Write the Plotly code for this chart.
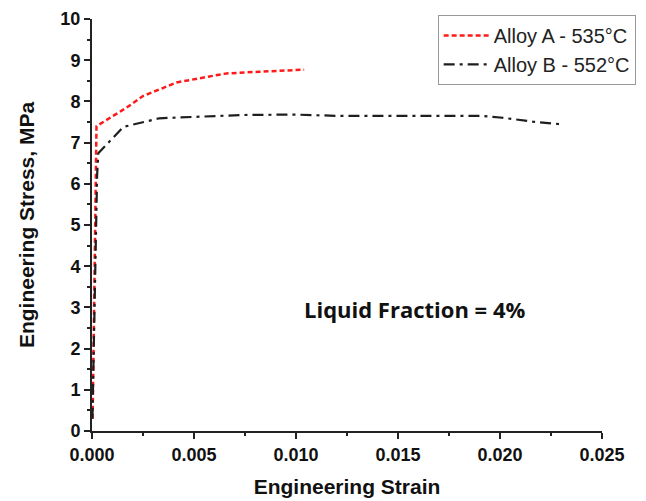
import plotly.graph_objects as go

# Tensile curves (engineering strain, engineering stress in MPa)
strain_a = [0.00003, 0.00010, 0.00018, 0.00022, 0.0017, 0.0025, 0.00415, 0.0058, 0.0066, 0.0082, 0.0104]
stress_a = [0.3, 3.0, 6.0, 7.40, 7.85, 8.13, 8.46, 8.60, 8.68, 8.72, 8.77]

strain_b = [0.00002, 0.00015, 0.00025, 0.00031, 0.00153, 0.0033, 0.0050, 0.0074, 0.0099, 0.0120,
            0.0150, 0.0190, 0.0200, 0.0216, 0.0229]
stress_b = [0.3, 4.0, 6.2, 6.74, 7.38, 7.59, 7.63, 7.67, 7.68, 7.65,
            7.65, 7.65, 7.61, 7.51, 7.45]

name_a = "Alloy A - 535°C"
name_b = "Alloy B - 552°C"
note_text = "Liquid Fraction = 4%"

x_ticks = [0.000, 0.005, 0.010, 0.015, 0.020, 0.025]
x_tick_text = ["0.000", "0.005", "0.010", "0.015", "0.020", "0.025"]
y_ticks = list(range(0, 11))

fig = go.Figure()
fig.add_trace(go.Scatter(
    x=strain_a, y=stress_a, mode="lines", name=name_a,
    line=dict(color="#ff1a1a", width=2.5, dash="5px,3px"),
))
fig.add_trace(go.Scatter(
    x=strain_b, y=stress_b, mode="lines", name=name_b,
    line=dict(color="#1e1e1e", width=2.2, dash="11px,5px,3px,5px"),
))

tick_font = dict(family="Liberation Sans, Arial", size=18, color="#111111", weight="bold")
title_font = dict(family="Liberation Sans, Arial", size=21, color="#111111", weight="bold")

fig.update_xaxes(
    range=[0, 0.025], tickvals=x_ticks, ticktext=x_tick_text, automargin=False,
    showline=True, linecolor="#222222", linewidth=2, mirror=False,
    ticks="outside", ticklen=6, tickwidth=2, tickcolor="#222222",
    minor=dict(ticks="outside", ticklen=3, tickwidth=2, tickcolor="#222222", dtick=0.0025),
    showgrid=False, zeroline=False, tickfont=tick_font,
    title=dict(text="Engineering Strain", font=title_font, standoff=16),
)
fig.update_yaxes(
    range=[0, 10], tickvals=y_ticks, automargin=False,
    showline=True, linecolor="#222222", linewidth=2, mirror=False,
    ticks="outside", ticklen=6, tickwidth=2, tickcolor="#222222",
    minor=dict(ticks="outside", ticklen=3, tickwidth=2, tickcolor="#222222", dtick=0.5),
    showgrid=False, zeroline=False, tickfont=tick_font,
    title=dict(text="Engineering Stress, MPa", font=title_font, standoff=20),
)

fig.add_annotation(
    x=0.0158, y=2.95, xref="x", yref="y", text=note_text, showarrow=False,
    font=dict(family="Open Sans, Lato", size=22, color="#111111", weight="bold"),
)

fig.update_layout(
    width=646, height=501,
    margin=dict(l=92, r=44, t=19, b=70, autoexpand=False),
    plot_bgcolor="white", paper_bgcolor="white",
    legend=dict(
        x=1.066, y=1.01, xanchor="right", yanchor="top",
        bgcolor="white", bordercolor="#999999", borderwidth=1,
        font=dict(family="Liberation Sans, Arial", size=20, color="#222222"),
        tracegroupgap=0, itemwidth=45,
    ),
    showlegend=True,
)

fig.write_html("out.html")
